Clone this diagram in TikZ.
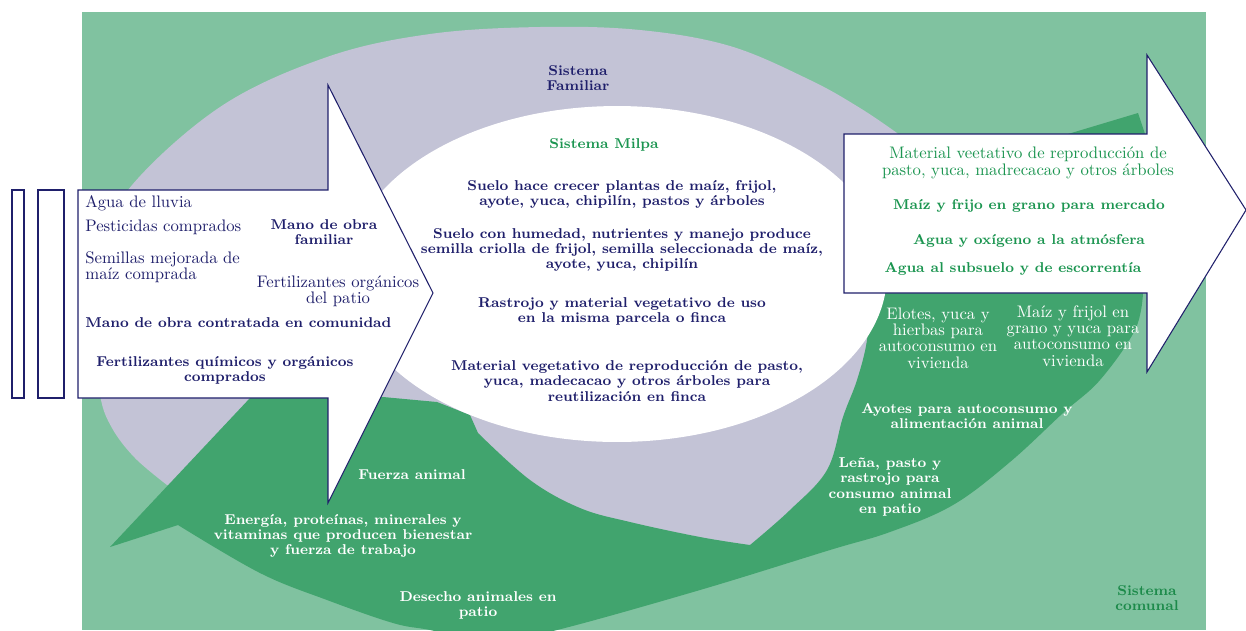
\documentclass[tikz,border=0pt]{standalone}
\usepackage{tikz}

\definecolor{fondo}{HTML}{80C2A0}
\definecolor{verdeosc}{HTML}{41A46E}
\definecolor{lila}{HTML}{C3C3D6}
\definecolor{azul}{HTML}{1F1F6B}
\definecolor{verdetxt}{HTML}{1B9550}
\definecolor{verdecom}{HTML}{1C8A4A}

\tikzset{
  flecha/.style={draw=azul, fill=white, line width=0.6pt},
  reg/.style={font=\fontsize{9.5}{9.3}\selectfont, inner sep=0pt, align=center},
  neg/.style={font=\bfseries\fontsize{8.1}{8.6}\selectfont, inner sep=0pt, align=center},
}

\begin{document}
\begin{tikzpicture}[x=0.02cm, y=-0.02cm]
    \useasboundingbox (0,0) rectangle (1246,630);

    % sistema comunal
    \fill[fondo] (82,12) rectangle (1206,630);
    \begin{scope}
        \clip (82,12) rectangle (1206,630);
        % sistema familiar
        \fill[lila] plot[smooth, tension=0.6] coordinates {(167,485) (135,458) (112,428) (100,395) (94,330) (103,255) (128,190) (220,107) (327,57) (430,34) (540,27) (640,30) (730,46) (810,80) (860,108) (897,133)}
            -- (960,200) -- (960,420) -- (850,480) -- (760,560) -- (600,530) -- (400,470) -- (250,480) -- cycle;
        % flecha verde
        \fill[verdeosc] (110,547) -- (250,398) -- (383,397) -- (437,402) -- (470,415) -- (478,433)
            -- plot[smooth, tension=0.6] coordinates {(478,433) (530,480) (580,508) (630,522) (700,537) (750,545)}
            -- plot[smooth, tension=0.6] coordinates {(750,545) (790,510) (827,470) (843,417) (857,380) (867,340) (870,293)}
            -- (900,200) -- (1068,134) -- (1138,113) -- (1147,140) -- (1143,293)
            -- plot[smooth, tension=0.6] coordinates {(1143,293) (1135,330) (1100,380) (1063,413) (1010,462) (953,505) (890,532) (830,550) (700,590) (557,630) (490,642) (430,630) (393,623) (327,600) (260,573) (178,525)}
            -- cycle;
        % sistema milpa
        \fill[white] (617,274) ellipse [x radius=5.4cm, y radius=3.36cm];
    \end{scope}

    % entradas
    \draw[flecha] (12,190) rectangle (24,398);
    \draw[flecha] (38,190) rectangle (64,398);
    \draw[flecha] (78,190) -- (328,190) -- (328,85) -- (433,293) -- (328,503) -- (328,398) -- (78,398) -- cycle;
    % salidas
    \draw[flecha] (844,134) -- (1147,134) -- (1147,55) -- (1246,210) -- (1147,372) -- (1147,293) -- (844,293) -- cycle;

    % label entradas
    \node[reg, text=azul, anchor=west] (agua) at (85,203) {Agua de lluvia};
    \node[reg, text=azul, anchor=west] (pesticidas) at (85,227) {Pesticidas comprados};
    \node[reg, text=azul, anchor=west, align=left] (semillas) at (85,267) {Semillas mejorada de\\maíz comprada};
    \node[neg, text=azul] (manofam) at (324,232) {Mano de obra\\familiar};
    \node[reg, text=azul] (fertpatio) at (338,291) {Fertilizantes orgánicos\\del patio};
    \node[neg, text=azul, anchor=west] (manocom) at (85,323) {Mano de obra contratada en comunidad};
    \node[neg, text=azul] (fertquim) at (225,370) {Fertilizantes químicos y orgánicos\\comprados};

    % label milpa
    \node[neg, text=azul] (familiar) at (578,78) {Sistema\\Familiar};
    \node[neg, text=verdetxt] (milpa) at (604,145) {Sistema Milpa};
    \node[neg, text=azul] (suelo) at (622,194) {Suelo hace crecer plantas de maíz, frijol,\\ayote, yuca, chipilín, pastos y árboles};
    \node[neg, text=azul] (humedad) at (622,250) {Suelo con humedad, nutrientes y manejo produce\\semilla criolla de frijol, semilla seleccionada de maíz,\\ayote, yuca, chipilín};
    \node[neg, text=azul] (rastrojo) at (622,311) {Rastrojo y material vegetativo de uso\\en la misma parcela o finca};
    \node[neg, text=azul] (reutil) at (627,381) {Material vegetativo de reproducción de pasto,\\yuca, madecacao y otros árboles para\\reutilización en finca};

    % label salidas
    \node[reg, text=verdetxt] (veetativo) at (1028,163) {Material veetativo de reproducción de\\pasto, yuca, madrecacao y otros árboles};
    \node[neg, text=verdetxt] (mercado) at (1029,206) {Maíz y frijo en grano para mercado};
    \node[neg, text=verdetxt] (atmosfera) at (1029,241) {Agua y oxígeno a la atmósfera};
    \node[neg, text=verdetxt] (subsuelo) at (1013,269) {Agua al subsuelo y de escorrentía};

    % label flecha verde
    \node[reg, text=white] (elotes) at (938,338) {Elotes, yuca y\\hierbas para\\autoconsumo en\\vivienda};
    \node[reg, text=white] (grano) at (1073,336) {Maíz y frijol en\\grano y yuca para\\autoconsumo en\\vivienda};
    \node[neg, text=white] (ayotes) at (967,416) {Ayotes para autoconsumo y\\alimentación animal};
    \node[neg, text=white] (lena) at (890,487) {Leña, pasto y\\rastrojo para\\consumo animal\\en patio};
    \node[neg, text=white] (fuerza) at (412,475) {Fuerza animal};
    \node[neg, text=white] (energia) at (343,536) {Energía, proteínas, minerales y\\vitaminas que producen bienestar\\y fuerza de trabajo};
    \node[neg, text=white] (desecho) at (478,605) {Desecho animales en\\patio};
    \node[neg, text=verdecom] (comunal) at (1147,598) {Sistema\\comunal};
\end{tikzpicture}
\end{document}
